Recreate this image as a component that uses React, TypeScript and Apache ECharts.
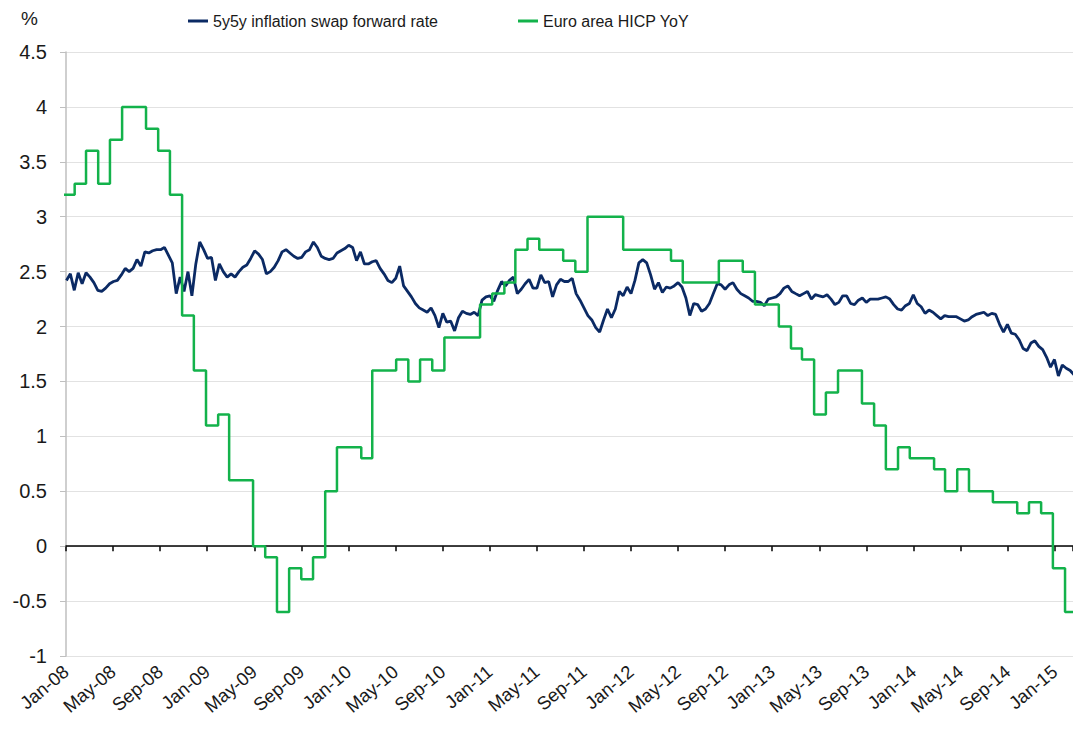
import { useEffect, useRef } from 'react';
import * as echarts from 'echarts';

// ---------- data ----------
const tickLabels = [
  'Jan-08', 'May-08', 'Sep-08', 'Jan-09', 'May-09', 'Sep-09', 'Jan-10', 'May-10',
  'Sep-10', 'Jan-11', 'May-11', 'Sep-11', 'Jan-12', 'May-12', 'Sep-12', 'Jan-13',
  'May-13', 'Sep-13', 'Jan-14', 'May-14', 'Sep-14', 'Jan-15',
];

// Euro area HICP YoY, monthly, Jan of each year onward
const hicp2008 = [3.2, 3.3, 3.6, 3.3, 3.7, 4.0, 4.0, 3.8, 3.6, 3.2, 2.1, 1.6];
const hicp2009 = [1.1, 1.2, 0.6, 0.6, 0.0, -0.1, -0.6, -0.2, -0.3, -0.1, 0.5, 0.9];
const hicp2010 = [0.9, 0.8, 1.6, 1.6, 1.7, 1.5, 1.7, 1.6, 1.9, 1.9, 1.9, 2.2];
const hicp2011 = [2.3, 2.4, 2.7, 2.8, 2.7, 2.7, 2.6, 2.5, 3.0, 3.0, 3.0, 2.7];
const hicp2012 = [2.7, 2.7, 2.7, 2.6, 2.4, 2.4, 2.4, 2.6, 2.6, 2.5, 2.2, 2.2];
const hicp2013 = [2.0, 1.8, 1.7, 1.2, 1.4, 1.6, 1.6, 1.3, 1.1, 0.7, 0.9, 0.8];
const hicp2014 = [0.8, 0.7, 0.5, 0.7, 0.5, 0.5, 0.4, 0.4, 0.3, 0.4, 0.3, -0.2];
const hicp2015 = [-0.6];

// 5y5y inflation swap forward rate, one reading every 10 days from 11 Jan 2008
const swap2008 = [2.42, 2.48, 2.33, 2.49, 2.39, 2.49, 2.45, 2.40, 2.33, 2.32,
  2.35, 2.39, 2.41, 2.42, 2.47, 2.53, 2.50, 2.53, 2.61, 2.55,
  2.68, 2.67, 2.69, 2.70, 2.70, 2.72, 2.65, 2.58, 2.30, 2.45,
  2.32, 2.50, 2.28, 2.57, 2.77, 2.70];
const swap2009 = [2.62, 2.63, 2.42, 2.57,
  2.50, 2.45, 2.48, 2.45, 2.50, 2.54, 2.56, 2.62, 2.69, 2.66,
  2.61, 2.48, 2.50, 2.54, 2.60, 2.68, 2.70, 2.67, 2.64, 2.62,
  2.63, 2.68, 2.70, 2.77, 2.72, 2.64, 2.62, 2.61, 2.62, 2.67,
  2.69, 2.71, 2.74];
const swap2010 = [2.72, 2.60, 2.68, 2.57, 2.57, 2.59, 2.60,
  2.53, 2.48, 2.42, 2.40, 2.44, 2.55, 2.37, 2.32, 2.27, 2.21,
  2.17, 2.15, 2.13, 2.17, 2.10, 1.99, 2.12, 2.04, 2.05, 1.96,
  2.08, 2.14, 2.12, 2.11, 2.13, 2.10, 2.24, 2.27, 2.28];
const swap2011 = [2.23,
  2.33, 2.41, 2.37, 2.42, 2.45, 2.30, 2.34, 2.39, 2.43, 2.35,
  2.35, 2.47, 2.40, 2.41, 2.27, 2.38, 2.43, 2.41, 2.41, 2.44,
  2.30, 2.24, 2.17, 2.10, 2.06, 1.99, 1.95, 2.06, 2.16, 2.08,
  2.16, 2.32, 2.28, 2.36, 2.30, 2.42];
const swap2012 = [2.58, 2.61, 2.58, 2.47,
  2.34, 2.40, 2.31, 2.36, 2.35, 2.37, 2.40, 2.36, 2.26, 2.10,
  2.21, 2.20, 2.14, 2.16, 2.21, 2.30, 2.39, 2.38, 2.34, 2.38,
  2.40, 2.34, 2.30, 2.28, 2.26, 2.23, 2.23, 2.22, 2.19, 2.25,
  2.26, 2.27];
const swap2013 = [2.30, 2.35, 2.37, 2.32, 2.30, 2.28, 2.30, 2.32,
  2.25, 2.29, 2.28, 2.27, 2.29, 2.25, 2.20, 2.22, 2.28, 2.28,
  2.21, 2.20, 2.24, 2.26, 2.22, 2.25, 2.25, 2.25, 2.26, 2.27,
  2.25, 2.20, 2.16, 2.15, 2.19, 2.21, 2.29, 2.21, 2.18];
const swap2014 = [2.12,
  2.15, 2.13, 2.10, 2.07, 2.10, 2.09, 2.09, 2.09, 2.07, 2.05,
  2.06, 2.09, 2.11, 2.12, 2.13, 2.10, 2.12, 2.11, 2.02, 1.95,
  2.02, 1.94, 1.93, 1.88, 1.80, 1.78, 1.85, 1.87, 1.82, 1.79,
  1.72, 1.63, 1.70, 1.55, 1.65];
const swap2015 = [1.62, 1.60, 1.56];

// ---------- axis set-up (days since 1 Jan 2008) ----------
const DAY_MS = 86400000;
const ORIGIN = Date.UTC(2008, 0, 1);
const dayOf = (y: number, m: number, d: number) => (Date.UTC(y, m, d) - ORIGIN) / DAY_MS;
const X_MIN = 8.9;
const X_INT = 120.08;
const X_MAX = 2577.3;
const SWAP_FIRST_DAY = 10;
const SWAP_STEP_DAYS = 10;

const FONT = '"Liberation Sans", Arial, Helvetica, sans-serif';

export default function App() {
  const ref = useRef<HTMLDivElement>(null);

  useEffect(() => {
    document.body.style.margin = '0';
    if (!ref.current) return;
    const chart = echarts.init(ref.current, null, { renderer: 'svg' });

    const hicpValues = [
      ...hicp2008, ...hicp2009, ...hicp2010, ...hicp2011,
      ...hicp2012, ...hicp2013, ...hicp2014, ...hicp2015,
    ];
    const hicpData: number[][] = hicpValues.map((v, i) => [dayOf(2008, i, 1), v]);
    hicpData.push([X_MAX + 40, hicpValues[hicpValues.length - 1]]);

    const swapValues = [
      ...swap2008, ...swap2009, ...swap2010, ...swap2011,
      ...swap2012, ...swap2013, ...swap2014, ...swap2015,
    ];
    const swapData = swapValues.map((v, i) => [SWAP_FIRST_DAY + i * SWAP_STEP_DAYS, v]);

    const labelFor = (v: number) => {
      const k = Math.round((v - X_MIN) / X_INT);
      if (Math.abs(v - (X_MIN + k * X_INT)) < 0.5 && tickLabels[k]) return tickLabels[k];
      return '';
    };

    const legendText = { fontFamily: FONT, fontSize: 16, color: '#1a1a1a' };

    chart.setOption({
      animation: false,
      backgroundColor: '#ffffff',
      textStyle: { fontFamily: FONT },
      grid: { left: 66, right: 0, top: 52, bottom: 78, containLabel: false },
      legend: [
        {
          data: [{ name: '5y5y inflation swap forward rate', icon: 'rect' }],
          left: 188, top: 13, padding: 0, itemWidth: 20, itemHeight: 3, itemGap: 0,
          textStyle: legendText, selectedMode: false,
        },
        {
          data: [{ name: 'Euro area HICP YoY', icon: 'rect' }],
          left: 518, top: 13, padding: 0, itemWidth: 20, itemHeight: 3, itemGap: 0,
          textStyle: legendText, selectedMode: false,
        },
      ],
      graphic: [
        {
          type: 'text', left: 21, top: 9,
          style: { text: '%', fontFamily: FONT, fontSize: 19, fill: '#1a1a1a' },
        },
      ],
      xAxis: [
        {
          type: 'value', position: 'bottom', min: X_MIN, max: X_MAX, interval: X_INT,
          axisLine: { show: false, onZero: false },
          axisTick: { show: false },
          splitLine: { show: false },
          axisLabel: {
            rotate: 40, margin: 13, fontSize: 18.5, color: '#1a1a1a', fontFamily: FONT,
            formatter: labelFor, showMaxLabel: false,
          },
        },
        {
          type: 'value', position: 'top', min: X_MIN, max: X_MAX, interval: X_INT,
          axisLine: { show: true, onZero: true, lineStyle: { color: '#000000', width: 1.5 } },
          axisTick: { show: true, inside: true, length: 5, lineStyle: { color: '#000000', width: 1.5 } },
          splitLine: { show: false },
          axisLabel: { show: false },
        },
      ],
      yAxis: {
        type: 'value', min: -1, max: 4.5, interval: 0.5,
        axisLine: { show: true, lineStyle: { color: '#bfbfbf', width: 1.5 } },
        axisTick: { show: true, length: 6, lineStyle: { color: '#bfbfbf', width: 1 } },
        splitLine: { show: true, lineStyle: { color: '#e2e2e2', width: 1 } },
        axisLabel: { fontSize: 20, color: '#1a1a1a', margin: 19, fontFamily: FONT },
      },
      series: [
        {
          name: '5y5y inflation swap forward rate', type: 'line', xAxisIndex: 0,
          data: swapData, showSymbol: false, symbol: 'none',
          lineStyle: { color: '#0b2a64', width: 2.8 }, itemStyle: { color: '#0b2a64' },
        },
        {
          name: 'Euro area HICP YoY', type: 'line', xAxisIndex: 0, step: 'end',
          data: hicpData, showSymbol: false, symbol: 'none',
          lineStyle: { color: '#13b24b', width: 2.5 }, itemStyle: { color: '#13b24b' },
        },
      ],
    });

    return () => chart.dispose();
  }, []);

  return <div ref={ref} style={{ width: 1073, height: 734 }} />;
}
